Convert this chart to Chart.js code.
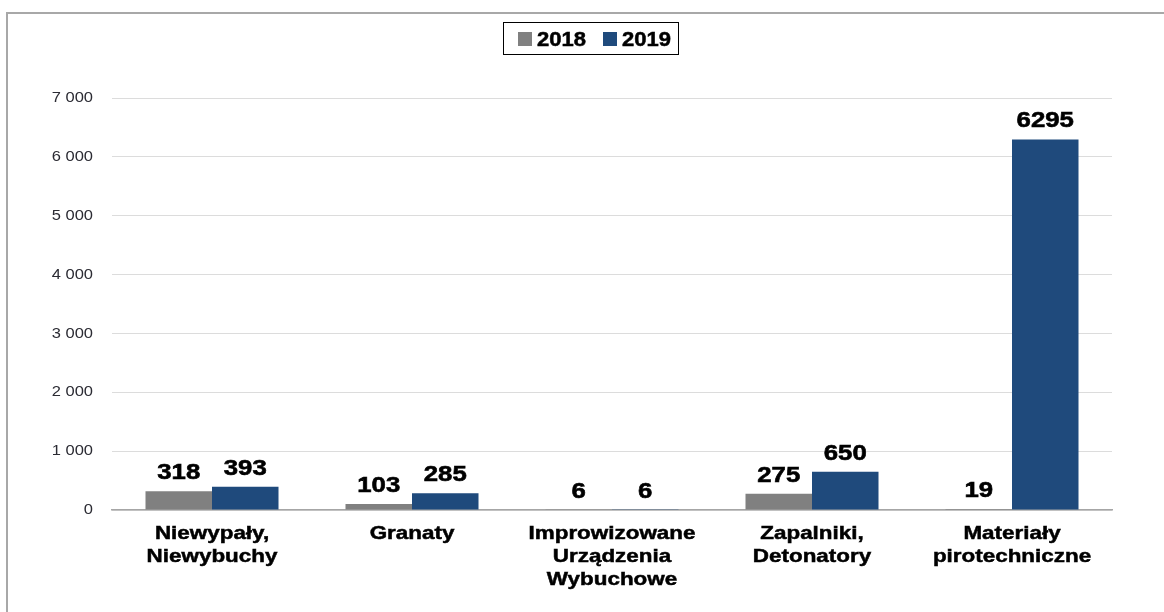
<!DOCTYPE html>
<html>
<head>
<meta charset="utf-8">
<script src="https://cdn.jsdelivr.net/npm/chart.js@4"></script>
<style>
  html, body { margin: 0; padding: 0; background: #fff; }
  #wrap { width: 1164px; height: 612px; position: relative; }
</style>
</head>
<body>
<div id="wrap"><canvas id="chart"></canvas></div>
<script>
const categories = [
    ["Niewypały,", "Niewybuchy"],
    ["Granaty"],
    ["Improwizowane", "Urządzenia", "Wybuchowe"],
    ["Zapalniki,", "Detonatory"],
    ["Materiały", "pirotechniczne"]
];
const values2018 = [318, 103, 6, 275, 19];
const values2019 = [393, 285, 6, 650, 6295];
const yTicks = [0, 1000, 2000, 3000, 4000, 5000, 6000, 7000];

const FONT = "Arial, 'Liberation Sans', sans-serif";

// the source picture has slightly widened, heavy lettering
function wideText(ctx, text, x, y, sx, heavy) {
    ctx.save();
    ctx.translate(x, y);
    ctx.scale(sx, 1);
    ctx.fillText(text, 0, 0);
    if (heavy) {
        ctx.strokeStyle = ctx.fillStyle;
        ctx.lineWidth = heavy;
        ctx.strokeText(text, 0, 0);
    }
    ctx.restore();
}

const fmt = v => String(v).replace(/\B(?=(\d{3})+(?!\d))/g, " ");

// outer frame (only left and top edges are visible)
const framePlugin = {
    id: "frame",
    beforeDraw(chart) {
        const ctx = chart.ctx;
        ctx.save();
        ctx.strokeStyle = "#a8a8a8";
        ctx.lineWidth = 2;
        ctx.beginPath();
        ctx.moveTo(7, chart.height);
        ctx.lineTo(7, 13);
        ctx.lineTo(chart.width, 13);
        ctx.stroke();
        ctx.restore();
    }
};

// axis labels drawn from the chart's scales
const axisText = {
    id: "axisText",
    afterDraw(chart) {
        const ctx = chart.ctx;
        const x = chart.scales.x, y = chart.scales.y;
        ctx.save();
        ctx.fillStyle = "#2b2b33";
        ctx.font = "15px " + FONT;
        ctx.textAlign = "right";
        ctx.textBaseline = "middle";
        yTicks.forEach(v => wideText(ctx, fmt(v), 93, y.getPixelForValue(v), 1.1));

        ctx.fillStyle = "#000";
        ctx.font = "bold 19px " + FONT;
        ctx.textAlign = "center";
        categories.forEach((lines, i) => {
            const cx = x.getPixelForTick(i);
            lines.forEach((line, k) => wideText(ctx, line, cx, y.bottom + 24 + k * 23, 1.18, 0.5));
        });
        ctx.restore();
    }
};

// boxed legend at the top
const boxLegend = {
    id: "boxLegend",
    afterDraw(chart) {
        const ctx = chart.ctx;
        ctx.save();
        ctx.strokeStyle = "#000";
        ctx.lineWidth = 1;
        ctx.strokeRect(503.5, 22.5, 175, 32);
        ctx.font = "bold 20px " + FONT;
        ctx.textBaseline = "middle";
        ctx.textAlign = "left";
        let x = 518;
        chart.data.datasets.forEach(ds => {
            ctx.fillStyle = ds.backgroundColor;
            ctx.fillRect(x, 32, 14, 14);
            ctx.fillStyle = "#000";
            wideText(ctx, ds.label, x + 19, 40, 1.1, 0.5);
            x += 85;
        });
        ctx.restore();
    }
};

// value labels above bars
const valueLabels = {
    id: "valueLabels",
    afterDatasetsDraw(chart) {
        const ctx = chart.ctx;
        ctx.save();
        ctx.font = "bold 22px " + FONT;
        ctx.fillStyle = "#000";
        ctx.textAlign = "center";
        ctx.textBaseline = "alphabetic";
        chart.data.datasets.forEach((ds, i) => {
            chart.getDatasetMeta(i).data.forEach((bar, j) => {
                wideText(ctx, String(ds.data[j]), bar.x, bar.y - 12, 1.17, 0.6);
            });
        });
        ctx.restore();
    }
};

new Chart(document.getElementById("chart"), {
    type: "bar",
    data: {
        labels: categories,
        datasets: [
            { label: "2018", data: values2018, backgroundColor: "#808080" },
            { label: "2019", data: values2019, backgroundColor: "#1F4A7C" }
        ]
    },
    options: {
        responsive: true,
        maintainAspectRatio: false,
        animation: false,
        layout: { padding: { top: 98, right: 52, left: 0, bottom: 0 } },
        datasets: { bar: { categoryPercentage: 0.665, barPercentage: 1.0 } },
        plugins: {
            legend: { display: false },
            tooltip: { enabled: false }
        },
        scales: {
            x: {
                grid: { display: false },
                border: { display: true, color: "#a6a6a6", width: 1.5 },
                ticks: { display: false },
                afterFit(scale) { scale.height = 102; }
            },
            y: {
                min: 0,
                max: 7000,
                afterBuildTicks(scale) { scale.ticks = yTicks.map(v => ({ value: v })); },
                grid: { color: "#dcdcdc", lineWidth: 1, drawTicks: false },
                border: { display: false },
                ticks: { display: false },
                afterFit(scale) { scale.width = 112; }
            }
        }
    },
    plugins: [framePlugin, valueLabels, axisText, boxLegend]
});
</script>
</body>
</html>
